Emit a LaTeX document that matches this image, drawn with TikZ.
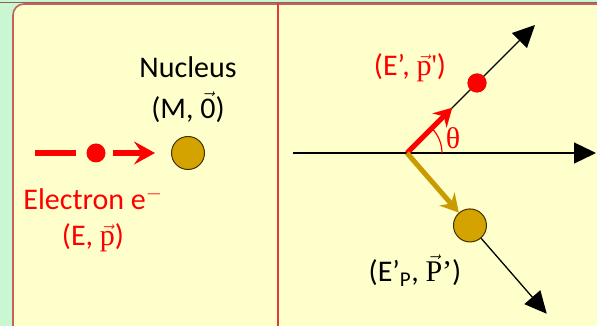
\documentclass[tikz,border=0pt]{standalone}
\usepackage{amsmath}
\usepackage{fontspec}
\setmainfont{Carlito}
\newfontfamily\grkfont{Liberation Serif}
\usetikzlibrary{positioning,arrows.meta,calc}
\definecolor{paneyellow}{HTML}{FFFFCC}
\definecolor{panegreen}{HTML}{C8F7D2}
\definecolor{paneedge}{HTML}{C8605C}
\definecolor{toprule}{HTML}{8E5E62}
\definecolor{splitred}{HTML}{E23A3A}
\definecolor{nucgold}{HTML}{D4A300}
\definecolor{elecred}{HTML}{FF0000}
\tikzset{
  lbl/.style     ={font=\fontsize{30}{32}\selectfont, inner sep=0pt},
  redlbl/.style  ={lbl, text=elecred},
  nucleus/.style ={circle, draw=black!70!nucgold, fill=nucgold, line width=1pt,
                   minimum size=33pt, inner sep=0pt},
  electron/.style={circle, fill=elecred, minimum size=19pt, inner sep=0pt},
  beam/.style    ={elecred, line width=6.5pt},
  kick/.style    ={elecred, line width=6.5pt, -{Stealth[length=21pt,width=23pt,inset=8pt]}},
  ray/.style     ={black, line width=1.3pt, -{Triangle[length=22pt,width=21pt]}},
  outmom/.style  ={line width=5pt, -{Stealth[length=18pt,width=20pt,inset=6pt]}},
}
\newcommand{\vecsym}[1]{$\vec{\text{#1}}$}

\begin{document}
\begin{tikzpicture}[x=1pt,y=1pt]
  \useasboundingbox (0,0) rectangle (597,326);
  \fill[panegreen] (0,0) rectangle (597,326);
  \draw[paneedge, line width=1.6pt, fill=paneyellow, rounded corners=11pt]
        (13,-20) rectangle (640,322);
  \draw[toprule, line width=1.4pt] (0,323.5) -- (597,323.5);
  \draw[splitred, line width=2.2pt] (278,0) -- (278,322.5);

  % before the collision
  \node[nucleus] (nuc) at (188,173) {};
  \node[electron] (elec) at (96,173) {};
  \coordinate (beamtail) at (35,173);
  \draw[beam] (beamtail) -- ([xshift=-10pt]elec.west);
  \draw[kick, shorten <=7.5pt, shorten >=16pt] (elec.east) -- (nuc.west);

  \node[lbl, above=13.5pt of nuc] (nucstate) {(M, \vecsym{0})};
  \node[lbl, above=14pt of nucstate] (nuclbl) {Nucleus};
  \node[redlbl, below=25pt of elec, xshift=-3pt] (eleclbl) {Electron e$^{-}$};
  \node[redlbl, below=14pt of eleclbl] (elecstate) {(E, \vecsym{\grkfont p})};

  % after the collision
  \coordinate (O) at (407,173);
  \coordinate (axisl) at (293,173);
  \coordinate (axisr) at (596,173);
  \coordinate (etip) at ($(O)+(45:181)$);
  \coordinate (ptip) at ($(O)+(-49:213)$);
  \node[electron] (elec2) at ($(O)+(45:99)$) {};
  \node[nucleus] (nuc2) at ($(O)+(-49:96)$) {};

  \draw[ray] (axisl) -- (axisr);
  \draw[ray] (O) -- (etip);
  \draw[ray] (nuc2) -- (ptip);
  \draw[outmom, elecred] (O) -- ($(O)+(45:64)$);
  \draw[outmom, nucgold!95!black] (O) -- (nuc2);
  \node[electron] at (elec2) {};
  \draw[elecred, line width=1.2pt] ($(O)+(35,0)$) arc[start angle=0, end angle=45, radius=35];

  \node[redlbl] (thetalbl) at (453,188) {{\grkfont θ}};
  \node[redlbl] (elec2lbl) at (410,258) {(E’, \vecsym{\grkfont p}{\grkfont '})};
  \node[lbl] (nuc2lbl) at (415,55) {(E’\textsubscript{P}, \vecsym{\grkfont P}{\grkfont ’})};
\end{tikzpicture}
\end{document}
